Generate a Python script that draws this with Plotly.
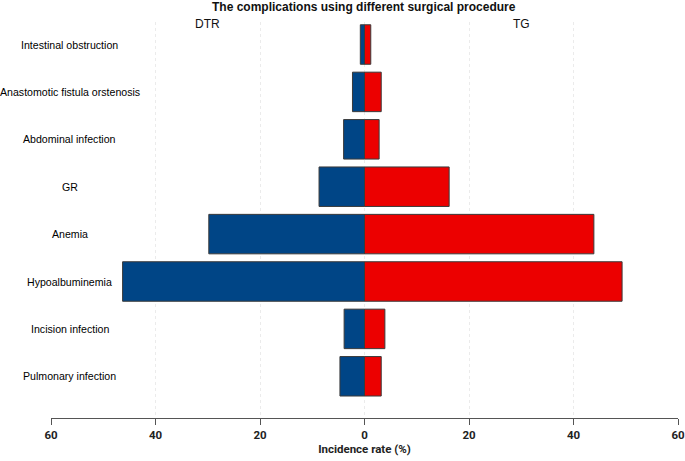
import plotly.graph_objects as go

# complication categories, listed top to bottom as in the figure
complications = ["Intestinal obstruction", "Anastomotic fistula orstenosis", "Abdominal infection",
                 "GR", "Anemia", "Hypoalbuminemia", "Incision infection", "Pulmonary infection"]
# incidence rate (%) per group
dtr_rate = [0.8, 2.3, 4.0, 8.7, 29.8, 46.3, 3.9, 4.7]
tg_rate = [1.2, 3.2, 2.8, 16.2, 43.9, 49.3, 3.9, 3.2]
tick_vals = [-60, -40, -20, 0, 20, 40, 60]
tick_text = ["60", "40", "20", "0", "20", "40", "60"]

label_font = dict(family="Liberation Sans, Arial", size=10.6, color="#000")
group_font = dict(family="Liberation Sans, Arial", size=12, color="#111")
axis_font = dict(family="Liberation Sans Narrow, Roboto", size=11.5, color="#222", weight="bold")

fig = go.Figure()
fig.add_trace(go.Bar(y=complications, x=[-v for v in dtr_rate], orientation="h", name="DTR",
                     marker=dict(color="#004586", line=dict(color="#3a3a3a", width=1))))
fig.add_trace(go.Bar(y=complications, x=tg_rate, orientation="h", name="TG",
                     marker=dict(color="#ec0000", line=dict(color="#3a3a3a", width=1))))

# category labels drawn inside the left part of the plot, centred
for c in complications:
    fig.add_annotation(x=0.0303, xref="paper", y=c, yref="y", text=c, showarrow=False,
                       xanchor="center", font=label_font)

fig.add_annotation(x=-30, xref="x", y=0.995, yref="paper", text="DTR", showarrow=False,
                   yanchor="middle", font=group_font)
fig.add_annotation(x=30, xref="x", y=0.995, yref="paper", text="TG", showarrow=False,
                   yanchor="middle", font=group_font)

fig.update_layout(
    width=685, height=461,
    margin=dict(l=51, r=7, t=22, b=43, autoexpand=False),
    barmode="relative", bargap=0.167,
    plot_bgcolor="white", paper_bgcolor="white",
    showlegend=False,
    title=dict(text="<b>The complications using different surgical procedure</b>",
               x=0.531, xanchor="center", y=0.985, yref="container", yanchor="middle",
               font=dict(family="Liberation Sans, Arial", size=12, color="#111")),
)
fig.update_xaxes(range=[-60, 60], tickvals=tick_vals, ticktext=tick_text,
                 showgrid=True, gridcolor="#ebebeb", griddash="dot", gridwidth=1, zeroline=False,
                 showline=True, linecolor="#555", linewidth=1, ticks="outside", ticklen=6,
                 tickcolor="#555", tickfont=axis_font,
                 title=dict(text="Incidence rate (%)", standoff=4, font=axis_font))
fig.update_yaxes(categoryorder="array", categoryarray=complications, range=[7.88, -0.475],
                 showticklabels=False, showgrid=False, zeroline=False, showline=False)

# browser default body margin would shift the figure by 8px
fig.write_html("out.html", config={"displayModeBar": False},
               post_script="document.body.style.margin='0';")
